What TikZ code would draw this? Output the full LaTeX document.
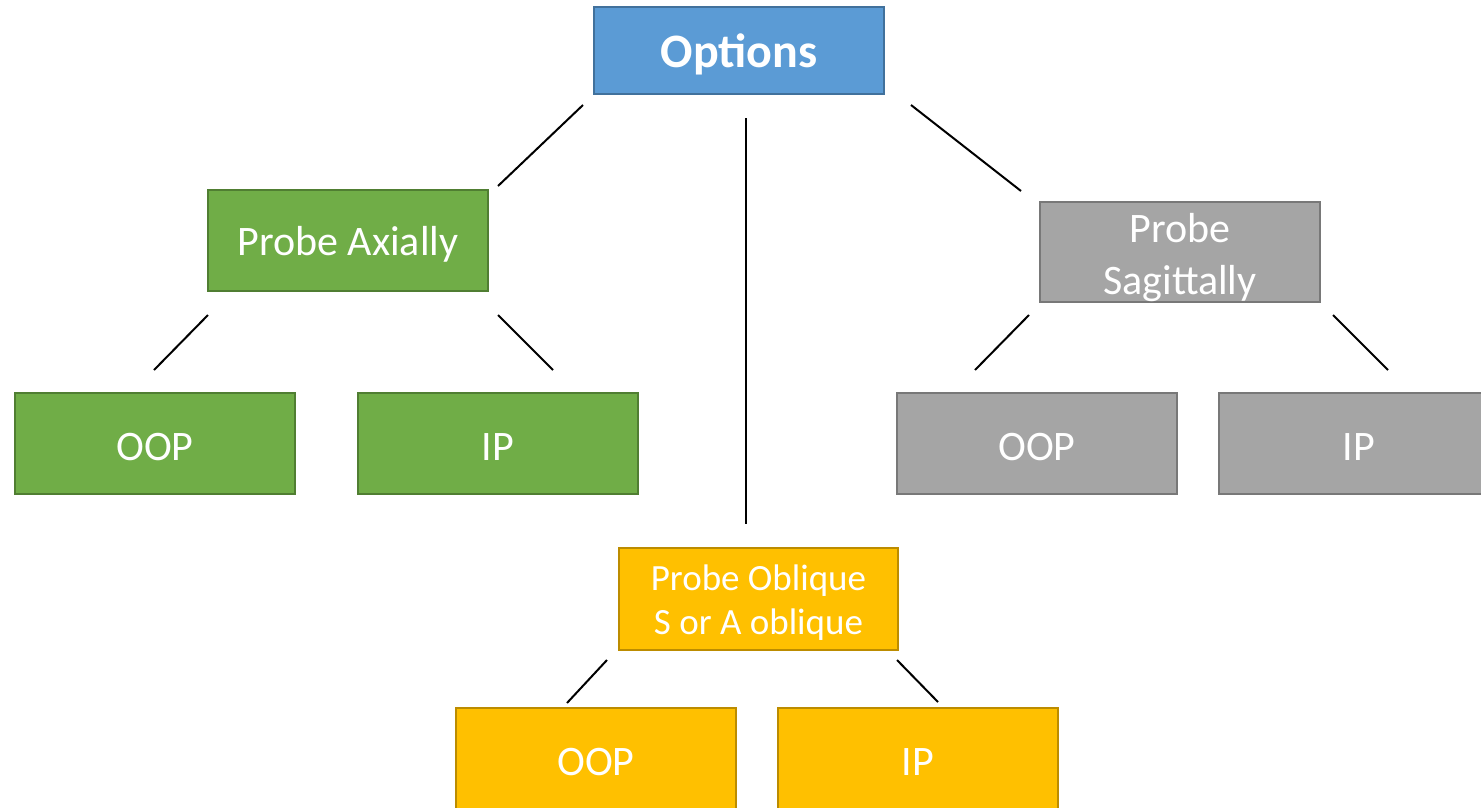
\documentclass[tikz,border=0pt]{standalone}
\usepackage{fontspec}
\setmainfont{Carlito}
\definecolor{bluefill}{HTML}{5B9BD5}
\definecolor{blueline}{HTML}{41719C}
\definecolor{greenfill}{HTML}{70AD47}
\definecolor{greenline}{HTML}{507E32}
\definecolor{grayfill}{HTML}{A5A5A5}
\definecolor{grayline}{HTML}{787878}
\definecolor{goldfill}{HTML}{FFC000}
\definecolor{goldline}{HTML}{BC8C00}
\newcommand\dnshift[1]{\raisebox{-4pt}[\height][\depth]{#1}}
\newcommand\twolines[3]{\raisebox{#1}[0pt][0pt]{\begin{tabular}{@{}c@{}}#2\\#3\end{tabular}}}
\tikzset{
  box/.style={draw, line width=2pt, minimum width=280pt, minimum height=101pt, inner sep=0pt, text=white, align=center, font=\fontsize{42}{50}\selectfont},
  bluebox/.style={box, fill=bluefill, draw=blueline},
  greenbox/.style={box, fill=greenfill, draw=greenline},
  graybox/.style={box, fill=grayfill, draw=grayline},
  goldbox/.style={box, fill=goldfill, draw=goldline},
  conn/.style={draw=black, line width=2pt}
}
\begin{document}
\begin{tikzpicture}[x=1pt,y=-1pt]
\useasboundingbox (0,0) rectangle (1481,807);
\clip (0,0) rectangle (1481,807);
\node[bluebox, minimum width=290pt, minimum height=87pt, font=\fontsize{48}{56}\selectfont\bfseries] (opt) at (739,50.5) {\dnshift{Options}};
\node[greenbox] (pa) at (348,240.5) {\dnshift{Probe Axially}};
\node[greenbox] (paoop) at (155,443.5) {\dnshift{OOP}};
\node[greenbox] (paip) at (498,443.5) {\dnshift{IP}};
\node[graybox, minimum height=100pt, font=\fontsize{42}{52}\selectfont] (ps) at (1180,252) {\twolines{-12pt}{Probe}{Sagittally}};
\node[graybox] (psoop) at (1037,443.5) {\dnshift{OOP}};
\node[graybox] (psip) at (1359,443.5) {\dnshift{IP}};
\node[goldbox, minimum width=279pt, minimum height=102pt, font=\fontsize{37}{44}\selectfont] (po) at (758.5,599) {\twolines{-11pt}{Probe Oblique}{S or A oblique}};
\node[goldbox] (pooop) at (596,758.5) {\dnshift{OOP}};
\node[goldbox] (poip) at (918,758.5) {\dnshift{IP}};
\coordinate (c1a) at (583,105); \coordinate (c1b) at (498,186);
\coordinate (c2a) at (746,118); \coordinate (c2b) at (746,524);
\coordinate (c3a) at (911,105); \coordinate (c3b) at (1021,191);
\coordinate (c4a) at (208,315); \coordinate (c4b) at (154,370);
\coordinate (c5a) at (498,315); \coordinate (c5b) at (553,370);
\coordinate (c6a) at (1029,315); \coordinate (c6b) at (975,370);
\coordinate (c7a) at (1333,315); \coordinate (c7b) at (1388,370);
\coordinate (c8a) at (607,660); \coordinate (c8b) at (567,703);
\coordinate (c9a) at (897,660); \coordinate (c9b) at (938,702);
\draw[conn] (c1a) -- (c1b);
\draw[conn] (c2a) -- (c2b);
\draw[conn] (c3a) -- (c3b);
\draw[conn] (c4a) -- (c4b);
\draw[conn] (c5a) -- (c5b);
\draw[conn] (c6a) -- (c6b);
\draw[conn] (c7a) -- (c7b);
\draw[conn] (c8a) -- (c8b);
\draw[conn] (c9a) -- (c9b);
\end{tikzpicture}
\end{document}
